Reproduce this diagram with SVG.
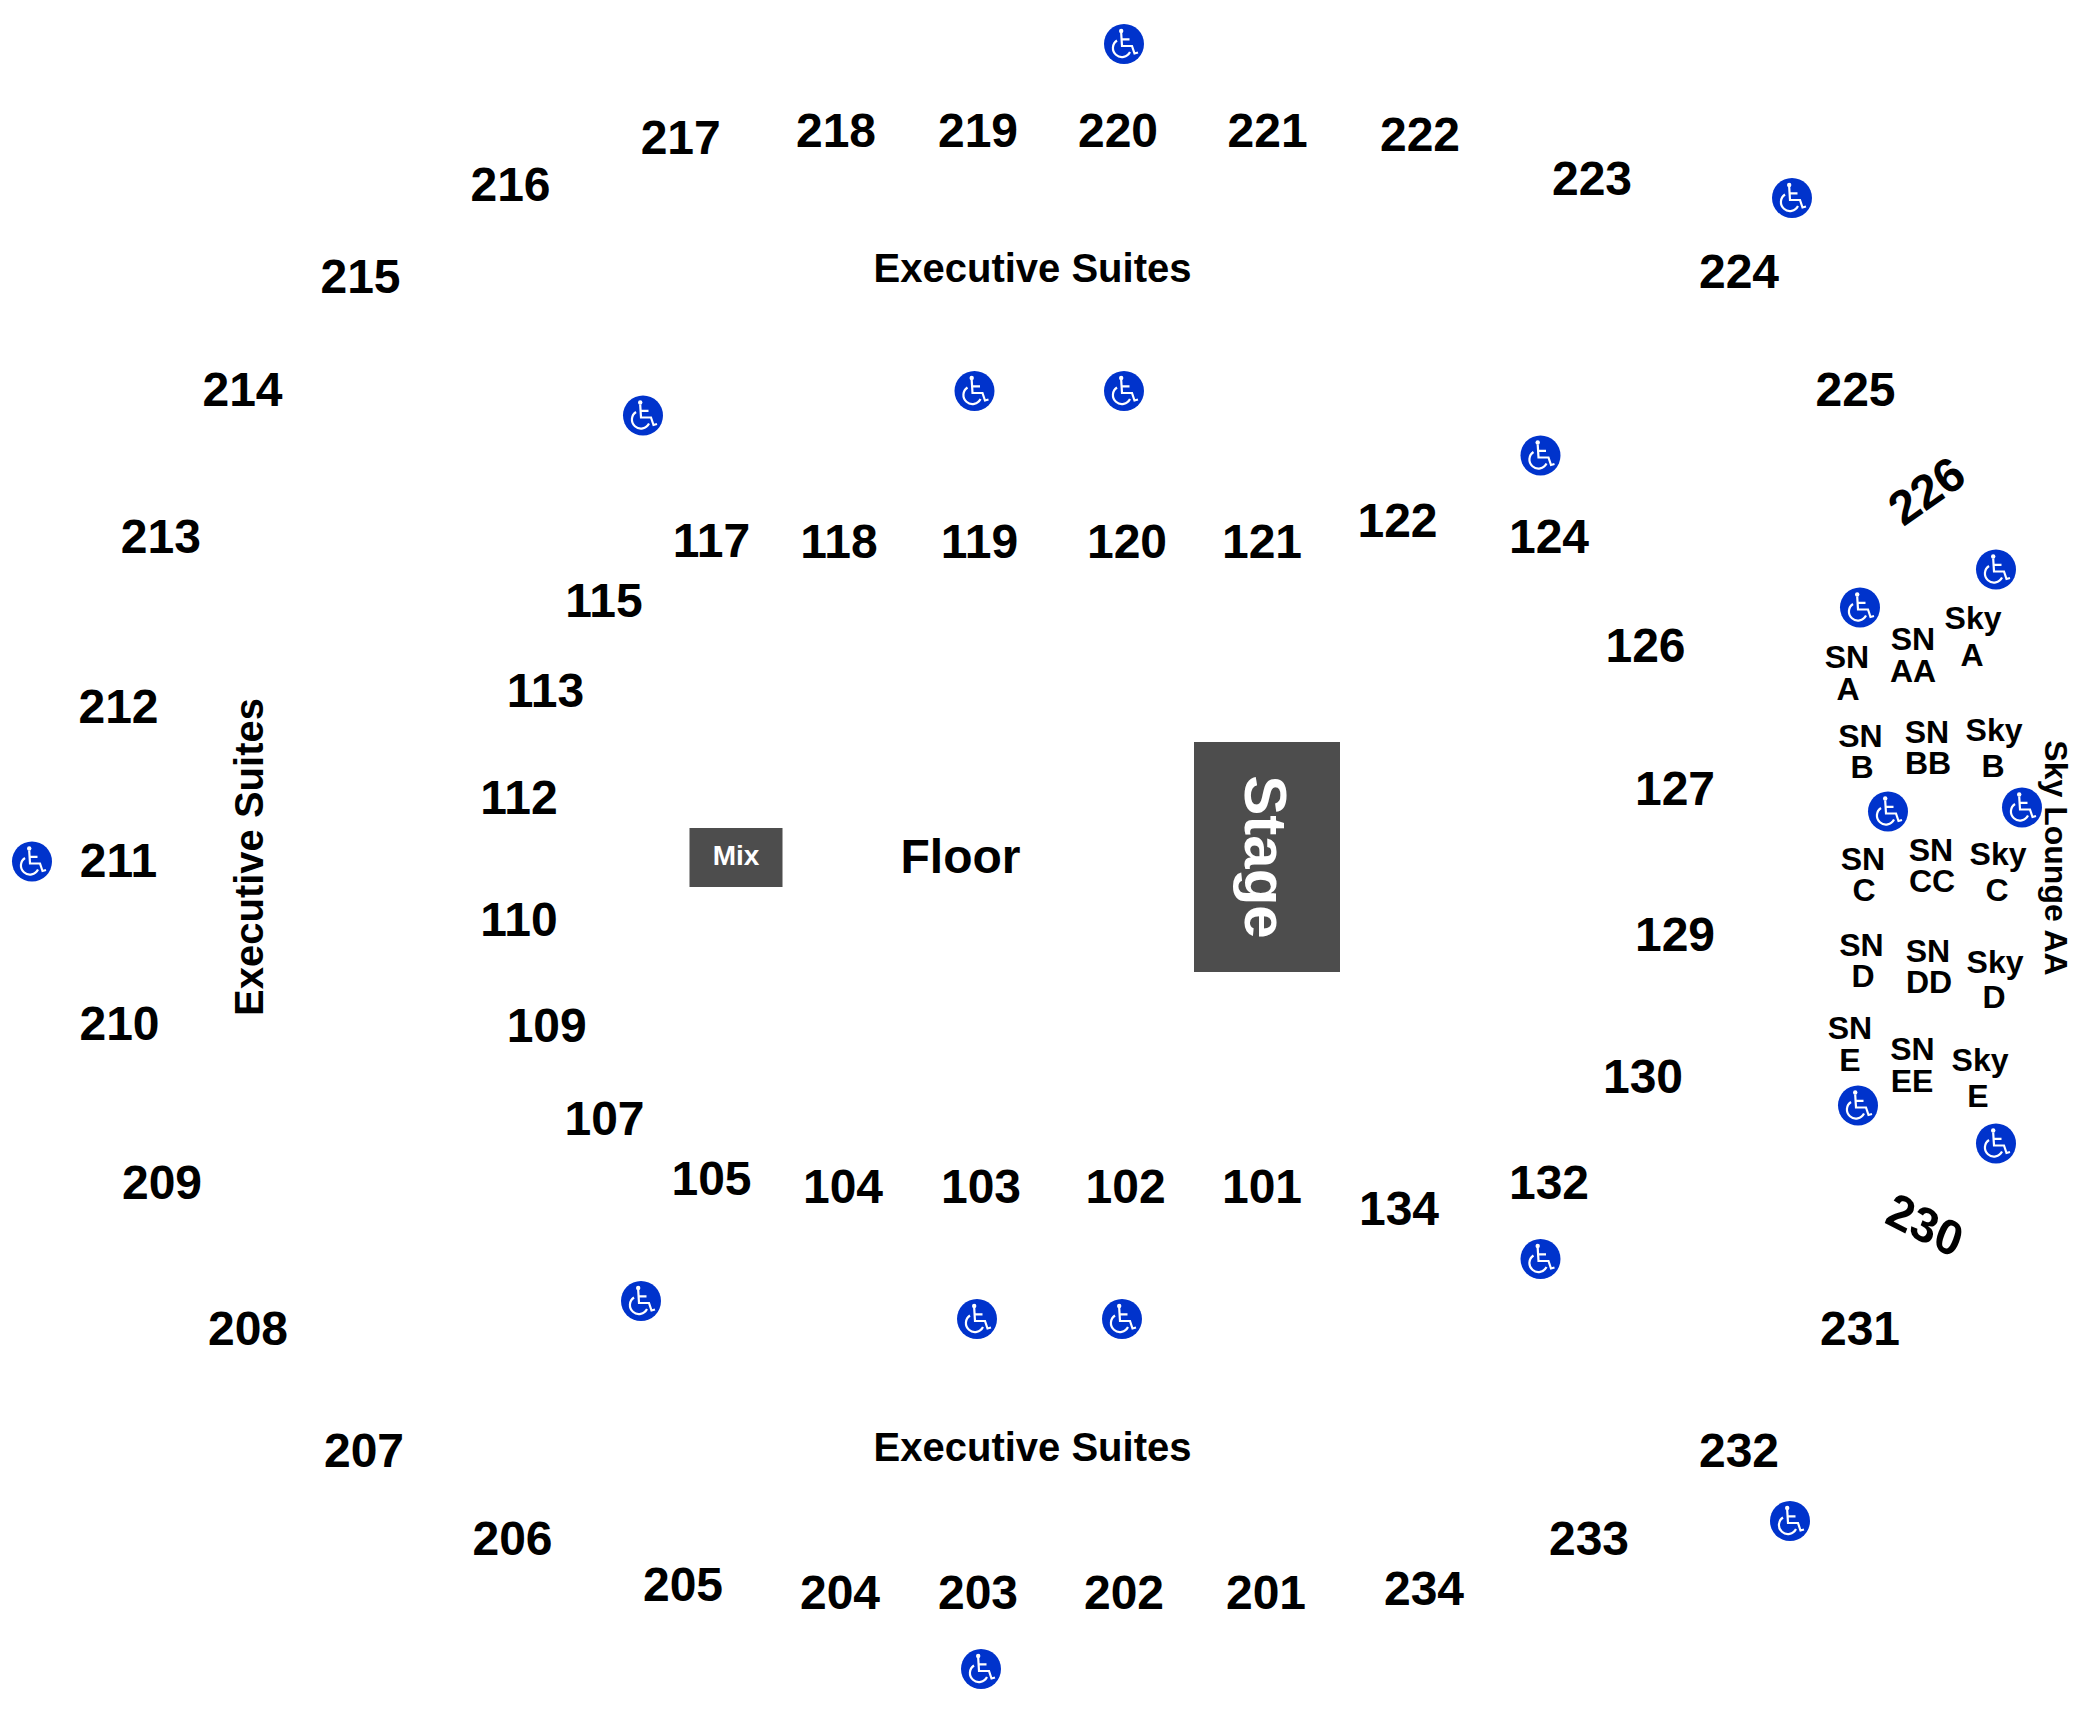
<svg xmlns="http://www.w3.org/2000/svg" width="2100" height="1724" viewBox="0 0 2100 1724">
<style>
text{font-family:"Liberation Sans",Arial,sans-serif;font-weight:700;fill:#000;text-anchor:middle}
.n{font-size:48px}
.s{font-size:32px}
.e{font-size:40px}
.bar{fill:#4d4d4d}
.ic{fill:none;stroke:#fff;stroke-width:2.2}
</style>
<defs>
<g id="wc">
<circle r="20" fill="#0033cc"/>
<circle cx="-2.8" cy="-13" r="2.2" fill="#fff"/>
<path class="ic" d="M-2.8-11L-2 2H8L10.5 9.5L14 8.5M-2-4.7H5.5"/>
<path class="ic" d="M-7-3.5A9 9 0 1 0 6 8"/>
</g>
</defs>
<rect width="2100" height="1724" fill="#fff"/>
<g id="stage"><rect class="bar" x="1194" y="742" width="146" height="230"/><text style="font-size:60px;fill:#fff" transform="translate(1244.5 857) rotate(90)">Stage</text></g>
<g id="mix"><rect class="bar" x="689.5" y="828" width="93" height="59"/><text style="font-size:28px;fill:#fff" x="736" y="865">Mix</text></g>
<g id="floor"><text class="n" x="960.5" y="873">Floor</text></g>
<g id="suites">
<text class="e" x="1032.5" y="282">Executive Suites</text>
<text class="e" x="1032.5" y="1461">Executive Suites</text>
<text class="e" transform="translate(262.5 857) rotate(-90)">Executive Suites</text>
</g>
<g id="upper" transform="translate(0 -0.6)">
<text class="n" x="680.7" y="154.5">217</text>
<text class="n" x="836" y="147.8">218</text>
<text class="n" x="978" y="147.8">219</text>
<text class="n" x="1118" y="147.8">220</text>
<text class="n" x="1267.6" y="147.8">221</text>
<text class="n" x="1420" y="151.8">222</text>
<text class="n" x="1592" y="196">223</text>
<text class="n" x="1739" y="288.5">224</text>
<text class="n" x="1855.5" y="406.5">225</text>
<text class="n" x="510.5" y="201.5">216</text>
<text class="n" x="360.5" y="294">215</text>
<text class="n" x="242.5" y="406.5">214</text>
<text class="n" x="160.8" y="553.8">213</text>
<text class="n" x="118.5" y="724">212</text>
<text class="n" x="118.5" y="878">211</text>
<text class="n" x="119.5" y="1040.3">210</text>
<text class="n" x="162" y="1199.7">209</text>
<text class="n" x="248" y="1345.8">208</text>
<text class="n" x="364" y="1467.7">207</text>
<text class="n" x="512.5" y="1556">206</text>
<text class="n" x="683" y="1601.7">205</text>
<text class="n" x="840" y="1609.8">204</text>
<text class="n" x="978" y="1609.8">203</text>
<text class="n" x="1124" y="1609.8">202</text>
<text class="n" x="1266" y="1609.8">201</text>
<text class="n" x="1424" y="1605.7">234</text>
<text class="n" x="1589" y="1556">233</text>
<text class="n" x="1739" y="1467.7">232</text>
<text class="n" x="1860" y="1345.8">231</text>
<text class="n" transform="translate(1936 505) rotate(-35)">226</text>
<text class="n" transform="translate(1919 1241) rotate(27) skewX(6)">230</text>
</g>
<g id="lower" transform="translate(0 -0.6)">
<text class="n" x="711.5" y="558">117</text>
<text class="n" x="839" y="559">118</text>
<text class="n" x="979.5" y="559">119</text>
<text class="n" x="1127" y="559">120</text>
<text class="n" x="1262" y="559">121</text>
<text class="n" x="1397.5" y="537.8">122</text>
<text class="n" x="1549" y="553.8">124</text>
<text class="n" x="604" y="618">115</text>
<text class="n" x="545.4" y="708">113</text>
<text class="n" x="519" y="815">112</text>
<text class="n" x="519" y="937">110</text>
<text class="n" x="546.7" y="1043">109</text>
<text class="n" x="604.5" y="1135.4">107</text>
<text class="n" x="711.5" y="1195.7">105</text>
<text class="n" x="843" y="1203.7">104</text>
<text class="n" x="981" y="1203.7">103</text>
<text class="n" x="1125.6" y="1203.7">102</text>
<text class="n" x="1262" y="1203.7">101</text>
<text class="n" x="1399" y="1226">134</text>
<text class="n" x="1549" y="1199.7">132</text>
<text class="n" x="1645.5" y="662.4">126</text>
<text class="n" x="1675" y="805.8">127</text>
<text class="n" x="1675" y="951.8">129</text>
<text class="n" x="1643" y="1094">130</text>
</g>
<g id="boxes">
<text class="s"><tspan x="1847" y="668">SN</tspan><tspan x="1848" y="700">A</tspan></text>
<text class="s"><tspan x="1913" y="650">SN</tspan><tspan x="1913" y="682">AA</tspan></text>
<text class="s"><tspan x="1973" y="629">Sky</tspan><tspan x="1972" y="666">A</tspan></text>
<text class="s"><tspan x="1860.5" y="747">SN</tspan><tspan x="1862" y="778">B</tspan></text>
<text class="s"><tspan x="1927" y="743">SN</tspan><tspan x="1928" y="774">BB</tspan></text>
<text class="s"><tspan x="1994" y="741">Sky</tspan><tspan x="1993" y="777">B</tspan></text>
<text class="s"><tspan x="1863" y="870">SN</tspan><tspan x="1864" y="901">C</tspan></text>
<text class="s"><tspan x="1931" y="861">SN</tspan><tspan x="1932" y="892">CC</tspan></text>
<text class="s"><tspan x="1998" y="865">Sky</tspan><tspan x="1997" y="901">C</tspan></text>
<text class="s"><tspan x="1861.5" y="956">SN</tspan><tspan x="1863" y="987">D</tspan></text>
<text class="s"><tspan x="1928" y="962">SN</tspan><tspan x="1929" y="993">DD</tspan></text>
<text class="s"><tspan x="1995" y="973">Sky</tspan><tspan x="1994" y="1008">D</tspan></text>
<text class="s"><tspan x="1850" y="1039">SN</tspan><tspan x="1850" y="1071">E</tspan></text>
<text class="s"><tspan x="1912.5" y="1060">SN</tspan><tspan x="1912" y="1092">EE</tspan></text>
<text class="s"><tspan x="1980" y="1071">Sky</tspan><tspan x="1978" y="1107">E</tspan></text>
<text class="s" transform="translate(2045 858) rotate(90)">Sky Lounge AA</text>
</g>
<g id="accessible">
<use href="#wc" x="1124" y="44"/>
<use href="#wc" x="1792" y="198"/>
<use href="#wc" x="974.5" y="391"/>
<use href="#wc" x="1124" y="391"/>
<use href="#wc" x="643" y="415.5"/>
<use href="#wc" x="1540.5" y="455.5"/>
<use href="#wc" x="1996" y="569.5"/>
<use href="#wc" x="1860" y="607.5"/>
<use href="#wc" x="1888" y="811.5"/>
<use href="#wc" x="2022" y="807.5"/>
<use href="#wc" x="32" y="861.5"/>
<use href="#wc" x="1858" y="1105.5"/>
<use href="#wc" x="1996" y="1143.5"/>
<use href="#wc" x="1540.5" y="1259"/>
<use href="#wc" x="641" y="1301"/>
<use href="#wc" x="977" y="1319"/>
<use href="#wc" x="1122" y="1319"/>
<use href="#wc" x="1790" y="1521"/>
<use href="#wc" x="981" y="1669"/>
</g>
</svg>
